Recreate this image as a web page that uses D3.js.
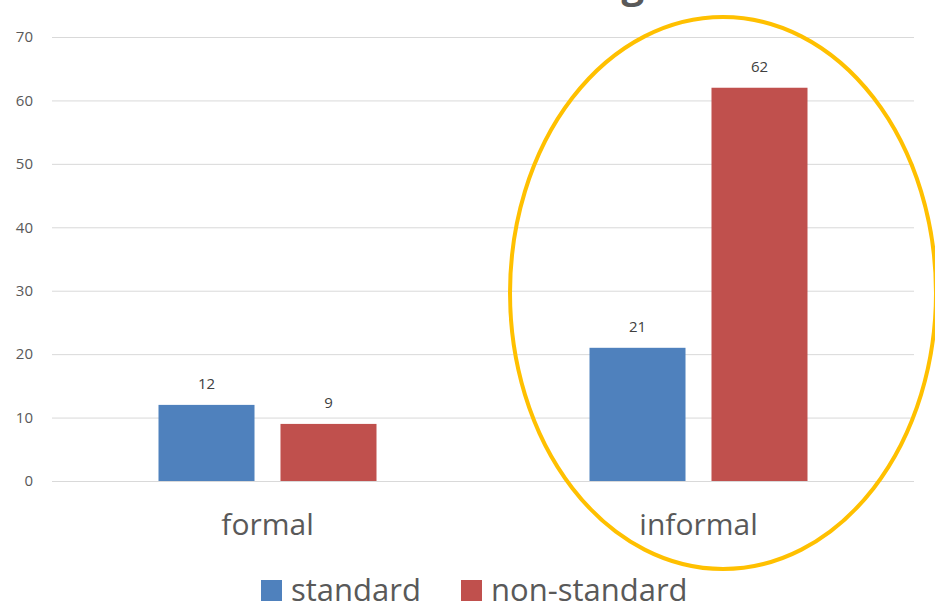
<!DOCTYPE html>
<html>
<head>
<meta charset="utf-8">
<script src="https://cdn.jsdelivr.net/npm/d3@7"></script>
<style>
  body { margin: 0; background: #fff; }
  text { font-family: "Open Sans", "Noto Sans", sans-serif; }
</style>
</head>
<body>
<div id="chart"></div>
<script>
// data
const categories = ["formal", "informal"];
const seriesNames = ["standard", "non-standard"];
const standardValues = [12, 21];
const nonStandardValues = [9, 62];
const yTicks = [0, 10, 20, 30, 40, 50, 60, 70];
const colors = ["#4f81bd", "#c0504d"];

const width = 935, height = 605;
const margin = { top: 37, right: 21, bottom: 124, left: 52 };
const plotW = width - margin.left - margin.right;
const plotH = height - margin.top - margin.bottom;

const svg = d3.select("#chart").append("svg")
  .attr("width", width)
  .attr("height", height);

// title sits above the visible area, only the tail of its "g" shows
svg.append("text")
  .attr("x", 644).attr("y", -2)
  .attr("text-anchor", "end")
  .attr("font-size", 40).attr("font-weight", "bold")
  .attr("fill", "#595959")
  .text("Social setting");

const g = svg.append("g")
  .attr("transform", "translate(" + margin.left + "," + margin.top + ")");

const y = d3.scaleLinear().domain([0, 70]).range([plotH, 0]);

const x0 = d3.scaleBand().domain(categories).range([0, plotW]).padding(0);
const groupW = 218;
const x1 = d3.scaleBand().domain(seriesNames)
  .range([(x0.bandwidth() - groupW) / 2, (x0.bandwidth() + groupW) / 2])
  .paddingInner(0.213);

// gridlines
g.append("g")
  .selectAll("line")
  .data(yTicks)
  .enter().append("line")
  .attr("x1", 0).attr("x2", plotW)
  .attr("y1", d => y(d) + 0.5).attr("y2", d => y(d) + 0.5)
  .attr("stroke", "#d9d9d9").attr("stroke-width", 1);

// y axis labels
const yAxis = g.append("g")
  .call(d3.axisLeft(y).tickValues(yTicks).tickSize(0).tickPadding(19));
yAxis.select(".domain").remove();
yAxis.selectAll("text")
  .attr("font-size", 15)
  .attr("fill", "#595959")
  .style("font-family", "'Open Sans', sans-serif");

// category labels
const xAxis = g.append("g")
  .attr("transform", "translate(0," + plotH + ")")
  .call(d3.axisBottom(x0).tickSize(0).tickPadding(33));
xAxis.select(".domain").remove();
xAxis.selectAll("text")
  .attr("font-size", 30)
  .attr("fill", "#595959")
  .style("font-family", "'Open Sans', sans-serif");

const rows = categories.map((c, i) => ({
  cat: c,
  vals: [
    { name: seriesNames[0], value: standardValues[i], color: colors[0] },
    { name: seriesNames[1], value: nonStandardValues[i], color: colors[1] }
  ]
}));

const groups = g.selectAll(".grp")
  .data(rows)
  .enter().append("g")
  .attr("transform", d => "translate(" + x0(d.cat) + ",0)");

groups.selectAll("rect")
  .data(d => d.vals)
  .enter().append("rect")
  .attr("x", d => x1(d.name))
  .attr("y", d => y(d.value))
  .attr("width", x1.bandwidth())
  .attr("height", d => plotH - y(d.value))
  .attr("fill", d => d.color);

groups.selectAll(".lbl")
  .data(d => d.vals)
  .enter().append("text")
  .attr("x", d => x1(d.name) + x1.bandwidth() / 2)
  .attr("y", d => y(d.value) - 16)
  .attr("text-anchor", "middle")
  .attr("font-size", 15)
  .attr("fill", "#404040")
  .text(d => d.value);

// highlight ring around informal
svg.append("ellipse")
  .attr("cx", 723).attr("cy", 293)
  .attr("rx", 213).attr("ry", 276)
  .attr("fill", "none")
  .attr("stroke", "#ffc000")
  .attr("stroke-width", 4);

// legend
const legend = svg.append("g");
const legendX = [261, 461];
seriesNames.forEach((name, i) => {
  legend.append("rect")
    .attr("x", legendX[i]).attr("y", 580)
    .attr("width", 21).attr("height", 21)
    .attr("fill", colors[i]);
  legend.append("text")
    .attr("x", legendX[i] + 30).attr("y", 601)
    .attr("font-size", 31)
    .attr("fill", "#595959")
    .text(name);
});
</script>
</body>
</html>
